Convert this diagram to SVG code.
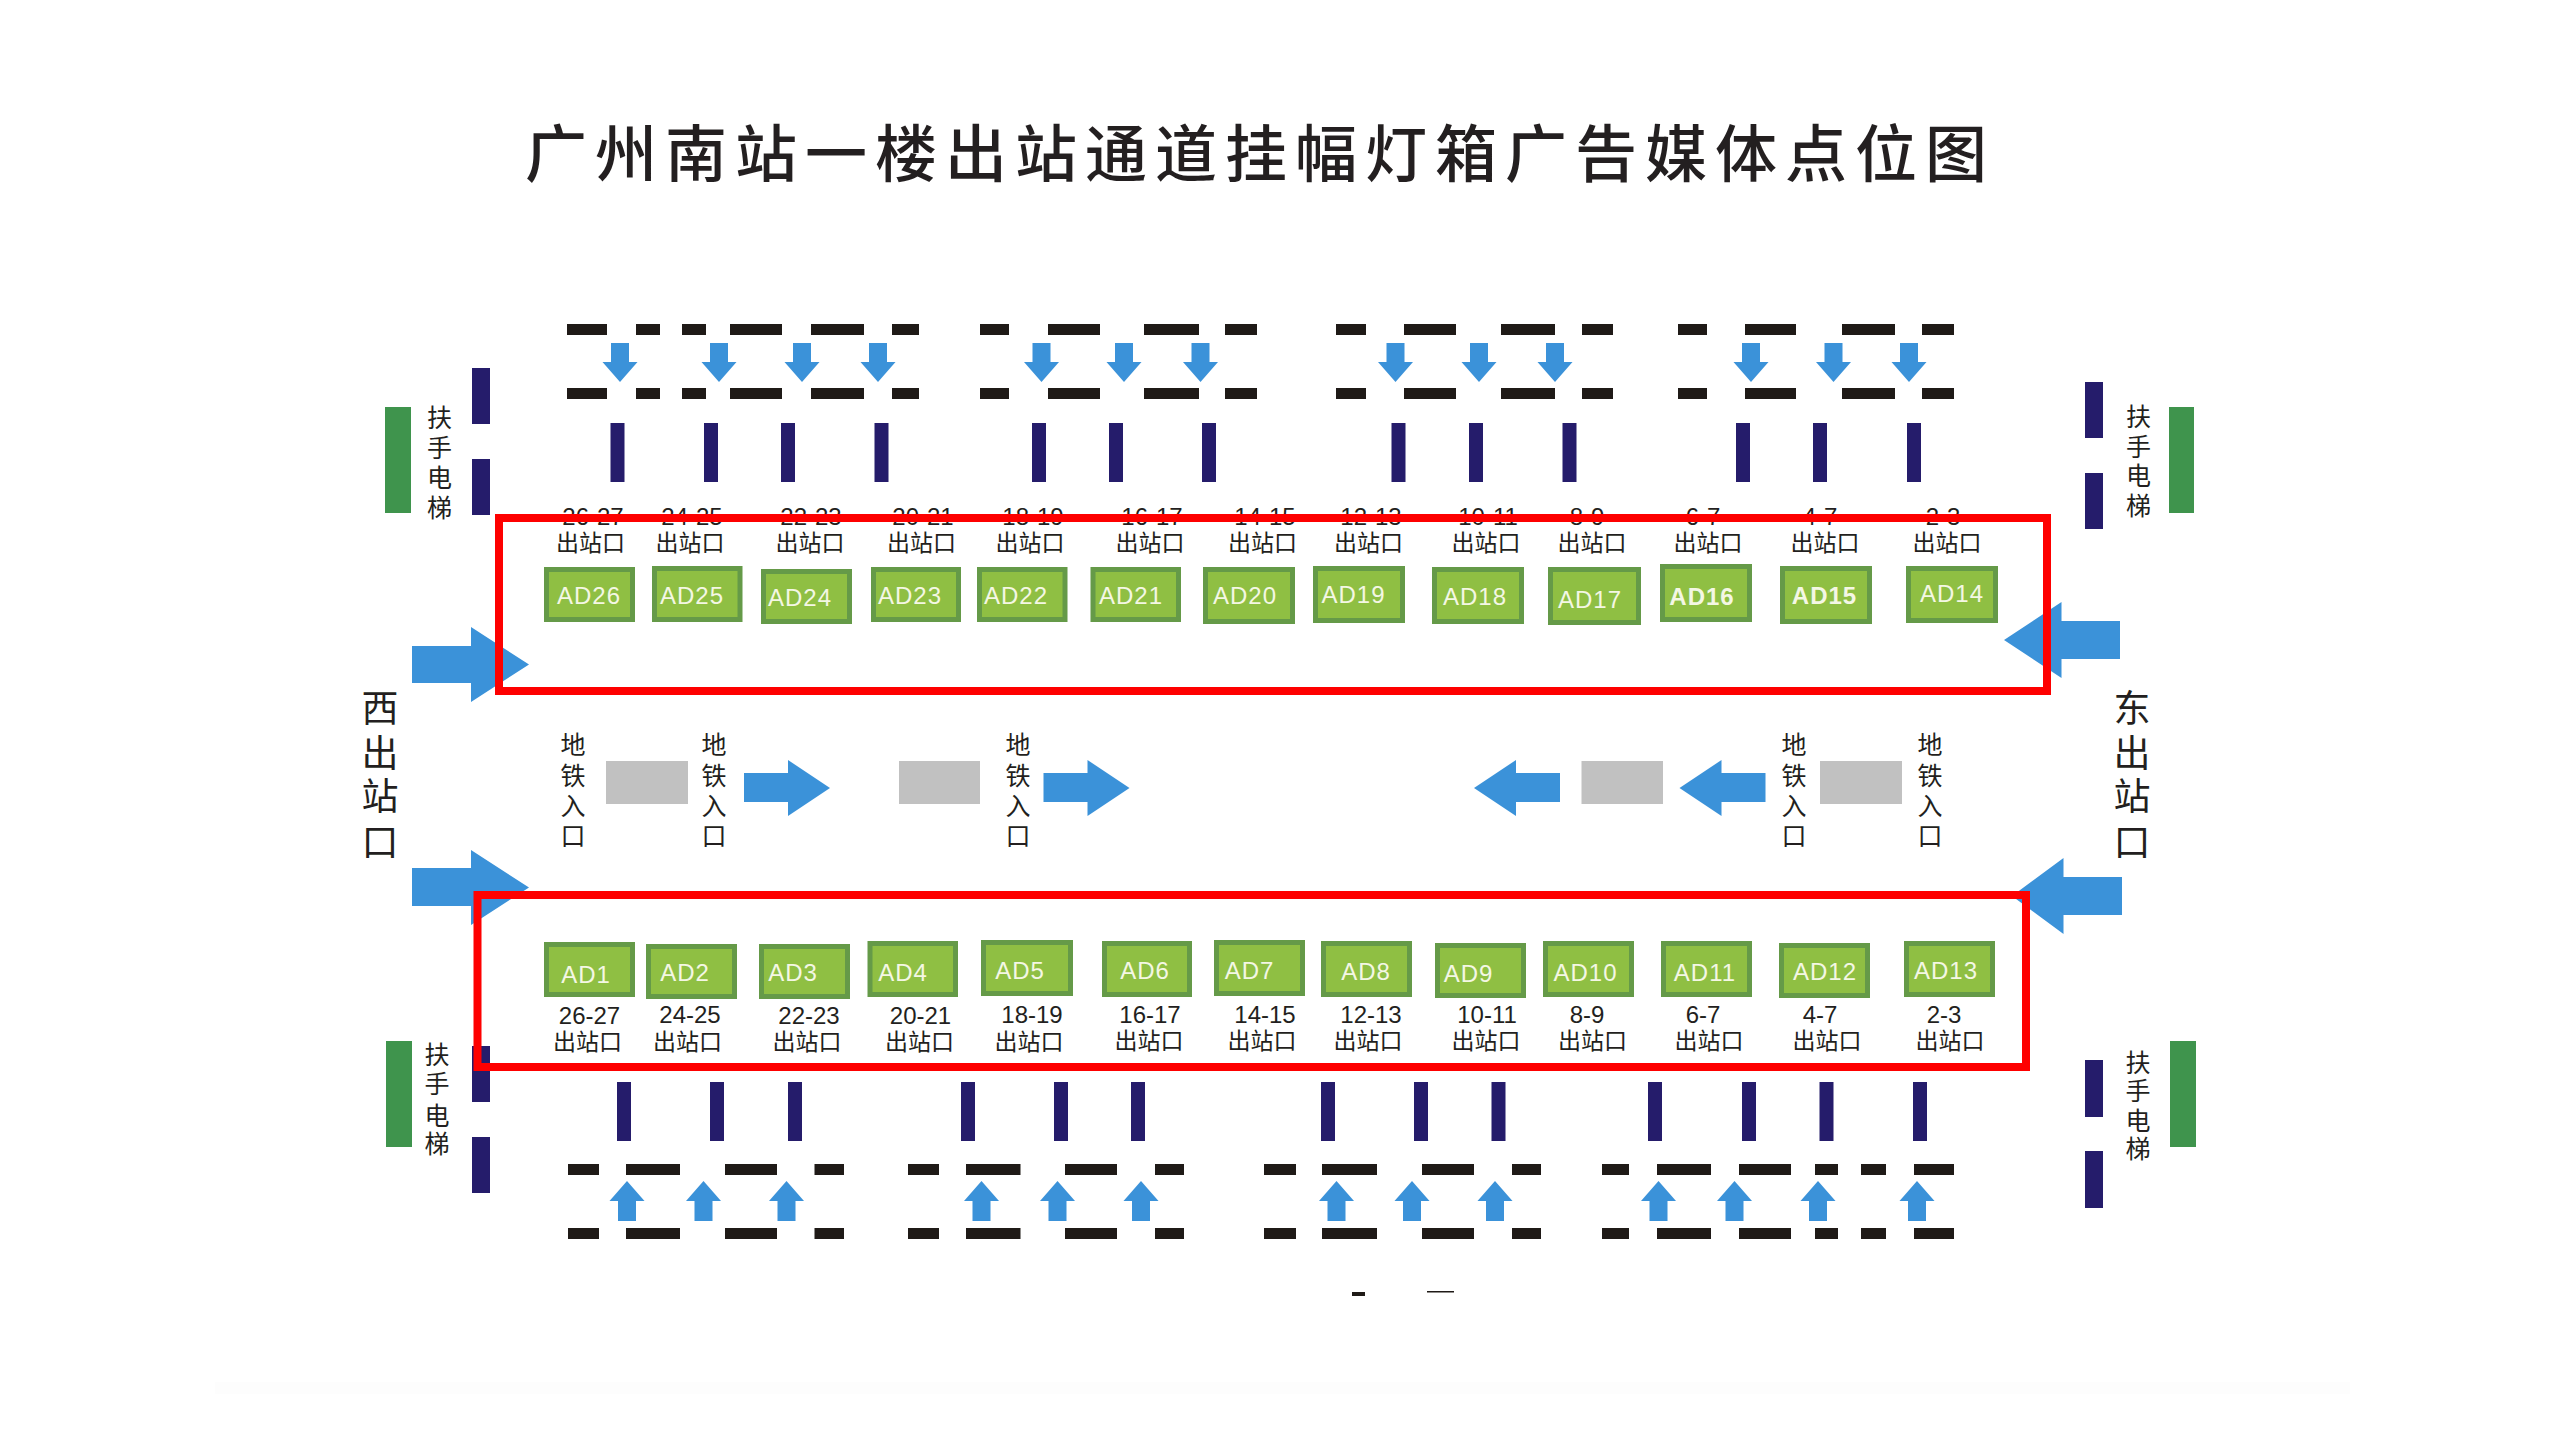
<svg xmlns="http://www.w3.org/2000/svg" xmlns:xlink="http://www.w3.org/1999/xlink" width="2560" height="1440" viewBox="0 0 2560 1440">
<style>
text{font-family:"Noto Sans CJK SC","Liberation Sans",sans-serif;fill:#231f20}
.title{font-size:62px;font-weight:500;letter-spacing:8px}
.ad{fill:#8fbf43;stroke:#659a48;stroke-width:5}
.adt{font-family:"Liberation Sans",sans-serif;font-size:24px;letter-spacing:1px;fill:#f4f7e4;text-anchor:middle}
.b{font-weight:bold}
.num{font-family:"Liberation Sans",sans-serif;font-size:24px;text-anchor:middle}
.exit{font-size:23px;text-anchor:middle}
.v{font-size:25px;text-anchor:middle}
.big{font-size:37px;text-anchor:middle}
.wall{fill:none;stroke:#1f1a17;stroke-width:11}
.navy{fill:none;stroke:#251c6b}
.blue{fill:#3b92d9}
.green{fill:#3f944d}
.gray{fill:#c1c1c1}
.red{fill:none;stroke:#fe0000;stroke-width:8}
</style>
<defs>
<path id="dn" class="blue" d="M-9 0H9V19H17.500L0 39L-17.500 19H-9Z"/>
<path id="up" class="blue" d="M-9 40H9V20H17.500L0 0L-17.500 20H-9Z"/>
<path id="mr" class="blue" d="M0 13H44V0L86 28L44 56V42H0Z"/>
<path id="ml" class="blue" d="M86 13H42V0L0 28L42 56V42H86Z"/>
</defs>
<rect width="2560" height="1440" fill="#fff"/>
<rect x="215" y="1382" width="2135" height="12" fill="#fdfdfd"/>
<text class="title" x="525" y="176.500">广州南站一楼出站通道挂幅灯箱广告媒体点位图</text>

<g id="walls">
<path class="wall" d="M567 329.500H607M636 329.500H660M682 329.500H706M730 329.500H782M811 329.500H864M892 329.500H919M980 329.500H1009M1048 329.500H1100M1144 329.500H1199M1225 329.500H1257M1336 329.500H1366M1404 329.500H1456M1501 329.500H1555M1582 329.500H1613M1678 329.500H1707M1745 329.500H1796M1842 329.500H1895M1922 329.500H1954"/>
<path class="wall" d="M567 393.500H607M636 393.500H660M682 393.500H706M730 393.500H782M811 393.500H864M892 393.500H919M980 393.500H1009M1048 393.500H1100M1144 393.500H1199M1225 393.500H1257M1336 393.500H1366M1404 393.500H1456M1501 393.500H1555M1582 393.500H1613M1678 393.500H1707M1745 393.500H1796M1842 393.500H1895M1922 393.500H1954"/>
<path class="wall" d="M568 1169.500H599M626 1169.500H680M725 1169.500H777M814.500 1169.500H844M908 1169.500H939M966 1169.500H1020.500M1065 1169.500H1117M1155 1169.500H1184M1264 1169.500H1296M1322 1169.500H1377M1422 1169.500H1474M1512 1169.500H1541M1602 1169.500H1629M1657 1169.500H1711M1739 1169.500H1791M1815 1169.500H1838M1861 1169.500H1886M1914 1169.500H1954"/>
<path class="wall" d="M568 1233.500H599M626 1233.500H680M725 1233.500H777M814.500 1233.500H844M908 1233.500H939M966 1233.500H1020.500M1065 1233.500H1117M1155 1233.500H1184M1264 1233.500H1296M1322 1233.500H1377M1422 1233.500H1474M1512 1233.500H1541M1602 1233.500H1629M1657 1233.500H1711M1739 1233.500H1791M1815 1233.500H1838M1861 1233.500H1886M1914 1233.500H1954"/>
<path d="M1352 1292H1365V1296H1352ZM1427 1291H1454V1292.500H1427Z" fill="#1f1a17"/>
</g>

<g id="columns">
<path class="navy" stroke-width="14" d="M617.500 423V482M711 423V482M788 423V482M881.500 423V482M1039 423V482M1116 423V482M1209 423V482M1398.500 423V482M1476 423V482M1569.500 423V482M1743 423V482M1820 423V482M1914 423V482"/>
<path class="navy" stroke-width="14" d="M624 1082V1141M717 1082V1141M795 1082V1141M968 1082V1141M1061 1082V1141M1138 1082V1141M1328 1082V1141M1421 1082V1141M1498.500 1082V1141M1655 1082V1141M1749 1082V1141M1826.500 1082V1141M1920 1082V1141"/>
<path class="navy" stroke-width="18" d="M481 368V424M481 459V515M481 1046V1102M481 1137V1193M2094 382V438M2094 473V529M2094 1060V1117M2094 1151V1208"/>
</g>

<g id="escalator-nw"><rect class="green" x="385" y="407" width="26" height="106"/>
<text class="v"><tspan x="439.500" y="426.500">扶</tspan><tspan x="439.500" y="456.500">手</tspan><tspan x="439.500" y="486.500">电</tspan><tspan x="439.500" y="516.500">梯</tspan></text></g>
<g id="escalator-ne"><rect class="green" x="2169" y="407" width="25" height="106"/>
<text class="v"><tspan x="2138.500" y="425.500">扶</tspan><tspan x="2138.500" y="455.500">手</tspan><tspan x="2138.500" y="484.500">电</tspan><tspan x="2138.500" y="514.500">梯</tspan></text></g>
<g id="escalator-sw"><rect class="green" x="386" y="1041" width="26" height="106"/>
<text class="v"><tspan x="437" y="1063.500">扶</tspan><tspan x="437" y="1093">手</tspan><tspan x="437" y="1124.500">电</tspan><tspan x="437" y="1152.500">梯</tspan></text></g>
<g id="escalator-se"><rect class="green" x="2170" y="1041" width="26" height="106"/>
<text class="v"><tspan x="2138" y="1071.500">扶</tspan><tspan x="2138" y="1099.500">手</tspan><tspan x="2138" y="1129.500">电</tspan><tspan x="2138" y="1157.500">梯</tspan></text></g>

<g id="exit-west"><text class="big"><tspan x="380" y="722">西</tspan><tspan x="380" y="767">出</tspan><tspan x="380" y="810">站</tspan><tspan x="380" y="856">口</tspan></text></g>
<g id="exit-east"><text class="big"><tspan x="2132" y="722">东</tspan><tspan x="2132" y="767">出</tspan><tspan x="2132" y="810">站</tspan><tspan x="2132" y="856">口</tspan></text></g>

<g id="metro-1"><text class="v"><tspan x="573" y="753.500">地</tspan><tspan x="573" y="784.500">铁</tspan><tspan x="573" y="814.500">入</tspan><tspan x="573" y="844.500">口</tspan></text></g>
<g id="metro-2"><text class="v"><tspan x="714" y="753.500">地</tspan><tspan x="714" y="784.500">铁</tspan><tspan x="714" y="814.500">入</tspan><tspan x="714" y="844.500">口</tspan></text></g>
<g id="metro-3"><text class="v"><tspan x="1018" y="753.500">地</tspan><tspan x="1018" y="784.500">铁</tspan><tspan x="1018" y="814.500">入</tspan><tspan x="1018" y="844.500">口</tspan></text></g>
<g id="metro-4"><text class="v"><tspan x="1794" y="753.500">地</tspan><tspan x="1794" y="784.500">铁</tspan><tspan x="1794" y="814.500">入</tspan><tspan x="1794" y="844.500">口</tspan></text></g>
<g id="metro-5"><text class="v"><tspan x="1930" y="753.500">地</tspan><tspan x="1930" y="784.500">铁</tspan><tspan x="1930" y="814.500">入</tspan><tspan x="1930" y="844.500">口</tspan></text></g>

<g id="stairs">
<rect class="gray" x="606" y="761" width="82" height="43"/>
<rect class="gray" x="899" y="761" width="81" height="43"/>
<rect class="gray" x="1581.500" y="761" width="81.500" height="43"/>
<rect class="gray" x="1820" y="761" width="82" height="43"/>
</g>

<g id="top-labels">
<text class="num" x="593" y="525">26-27</text><text class="exit" x="590.500" y="551">出站口</text>
<text class="num" x="692" y="525">24-25</text><text class="exit" x="690" y="551">出站口</text>
<text class="num" x="811" y="525">22-23</text><text class="exit" x="810" y="551">出站口</text>
<text class="num" x="923" y="525">20-21</text><text class="exit" x="921.500" y="551">出站口</text>
<text class="num" x="1033" y="525">18-19</text><text class="exit" x="1030" y="551">出站口</text>
<text class="num" x="1152" y="525">16-17</text><text class="exit" x="1150" y="551">出站口</text>
<text class="num" x="1265" y="525">14-15</text><text class="exit" x="1262.500" y="551">出站口</text>
<text class="num" x="1371" y="525">12-13</text><text class="exit" x="1368.500" y="551">出站口</text>
<text class="num" x="1488" y="525">10-11</text><text class="exit" x="1486" y="551">出站口</text>
<text class="num" x="1587" y="525">8-9</text><text class="exit" x="1592" y="551">出站口</text>
<text class="num" x="1703" y="525">6-7</text><text class="exit" x="1708" y="551">出站口</text>
<text class="num" x="1820" y="525">4-7</text><text class="exit" x="1825" y="551">出站口</text>
<text class="num" x="1943" y="525">2-3</text><text class="exit" x="1947" y="551">出站口</text>
</g>

<g id="bottom-labels">
<text class="num" x="589.500" y="1024">26-27</text><text class="exit" x="587.500" y="1050">出站口</text>
<text class="num" x="690" y="1023">24-25</text><text class="exit" x="687.500" y="1050">出站口</text>
<text class="num" x="809" y="1024">22-23</text><text class="exit" x="807" y="1050">出站口</text>
<text class="num" x="920.500" y="1024">20-21</text><text class="exit" x="919.500" y="1050">出站口</text>
<text class="num" x="1032" y="1023">18-19</text><text class="exit" x="1029" y="1050">出站口</text>
<text class="num" x="1150" y="1023">16-17</text><text class="exit" x="1149" y="1049">出站口</text>
<text class="num" x="1265" y="1023">14-15</text><text class="exit" x="1262" y="1049">出站口</text>
<text class="num" x="1371" y="1023">12-13</text><text class="exit" x="1368" y="1049">出站口</text>
<text class="num" x="1487" y="1023">10-11</text><text class="exit" x="1486" y="1049">出站口</text>
<text class="num" x="1587" y="1023">8-9</text><text class="exit" x="1592.500" y="1049">出站口</text>
<text class="num" x="1703" y="1023">6-7</text><text class="exit" x="1709" y="1049">出站口</text>
<text class="num" x="1820" y="1023">4-7</text><text class="exit" x="1827" y="1049">出站口</text>
<text class="num" x="1944" y="1023">2-3</text><text class="exit" x="1950" y="1049">出站口</text>
</g>

<g id="AD26"><rect class="ad" x="546.500" y="569.500" width="86" height="50"/><text class="adt" x="589" y="604">AD26</text></g>
<g id="AD25"><rect class="ad" x="654.500" y="568.500" width="85.500" height="51"/><text class="adt" x="692" y="604">AD25</text></g>
<g id="AD24"><rect class="ad" x="763.500" y="571.500" width="86" height="50"/><text class="adt" x="800" y="606">AD24</text></g>
<g id="AD23"><rect class="ad" x="873.500" y="569.500" width="85" height="50"/><text class="adt" x="910" y="604">AD23</text></g>
<g id="AD22"><rect class="ad" x="979.500" y="569.500" width="85.500" height="50"/><text class="adt" x="1016" y="604">AD22</text></g>
<g id="AD21"><rect class="ad" x="1093" y="569.500" width="85.500" height="50"/><text class="adt" x="1131" y="604">AD21</text></g>
<g id="AD20"><rect class="ad" x="1205.500" y="569.500" width="87" height="52"/><text class="adt" x="1245" y="604">AD20</text></g>
<g id="AD19"><rect class="ad" x="1315.500" y="568.500" width="87" height="52"/><text class="adt" x="1353.500" y="603">AD19</text></g>
<g id="AD18"><rect class="ad" x="1434.500" y="569.500" width="87" height="52"/><text class="adt" x="1475" y="605">AD18</text></g>
<g id="AD17"><rect class="ad" x="1550.500" y="569.500" width="88" height="53"/><text class="adt" x="1590" y="608">AD17</text></g>
<g id="AD16"><rect class="ad" x="1662.500" y="566.500" width="87" height="53"/><text class="adt b" x="1702" y="605">AD16</text></g>
<g id="AD15"><rect class="ad" x="1782.500" y="568.500" width="87" height="53"/><text class="adt b" x="1824.500" y="604">AD15</text></g>
<g id="AD14"><rect class="ad" x="1908.500" y="568.500" width="87" height="52"/><text class="adt" x="1952" y="602">AD14</text></g>

<g id="AD1"><rect class="ad" x="546.500" y="944.500" width="86" height="50"/><text class="adt" x="586" y="983">AD1</text></g>
<g id="AD2"><rect class="ad" x="648.500" y="946.500" width="86" height="50"/><text class="adt" x="685" y="981">AD2</text></g>
<g id="AD3"><rect class="ad" x="761.500" y="946.500" width="86" height="50"/><text class="adt" x="793" y="981">AD3</text></g>
<g id="AD4"><rect class="ad" x="870" y="943.500" width="85.500" height="51"/><text class="adt" x="903" y="981">AD4</text></g>
<g id="AD5"><rect class="ad" x="983.500" y="942.500" width="87" height="51"/><text class="adt" x="1020" y="979">AD5</text></g>
<g id="AD6"><rect class="ad" x="1104.500" y="943.500" width="85" height="51"/><text class="adt" x="1145" y="979">AD6</text></g>
<g id="AD7"><rect class="ad" x="1216.500" y="942.500" width="86" height="51"/><text class="adt" x="1249.500" y="979">AD7</text></g>
<g id="AD8"><rect class="ad" x="1323.500" y="943.500" width="86" height="51"/><text class="adt" x="1366" y="980">AD8</text></g>
<g id="AD9"><rect class="ad" x="1437.500" y="945.500" width="86" height="50"/><text class="adt" x="1468.500" y="982">AD9</text></g>
<g id="AD10"><rect class="ad" x="1545.500" y="943.500" width="86" height="51"/><text class="adt" x="1585.500" y="981">AD10</text></g>
<g id="AD11"><rect class="ad" x="1663.500" y="943.500" width="86" height="51"/><text class="adt" x="1705" y="981">AD11</text></g>
<g id="AD12"><rect class="ad" x="1781.500" y="945.500" width="86" height="50"/><text class="adt" x="1825" y="980">AD12</text></g>
<g id="AD13"><rect class="ad" x="1906.500" y="943.500" width="86" height="51"/><text class="adt" x="1946" y="979">AD13</text></g>

<g id="connectors">
<use href="#dn" x="620" y="343"/><use href="#dn" x="719" y="343"/><use href="#dn" x="802" y="343"/><use href="#dn" x="878" y="343"/>
<use href="#dn" x="1041.500" y="343"/><use href="#dn" x="1124" y="343"/><use href="#dn" x="1200.500" y="343"/>
<use href="#dn" x="1395.500" y="343"/><use href="#dn" x="1479" y="343"/><use href="#dn" x="1555" y="343"/>
<use href="#dn" x="1751" y="343"/><use href="#dn" x="1833.500" y="343"/><use href="#dn" x="1909" y="343"/>
<use href="#up" x="627" y="1181"/><use href="#up" x="703.500" y="1181"/><use href="#up" x="786.500" y="1181"/>
<use href="#up" x="981.500" y="1181"/><use href="#up" x="1057.500" y="1181"/><use href="#up" x="1141" y="1181"/>
<use href="#up" x="1336.500" y="1181"/><use href="#up" x="1412" y="1181"/><use href="#up" x="1495" y="1181"/>
<use href="#up" x="1658.500" y="1181"/><use href="#up" x="1734.500" y="1181"/><use href="#up" x="1818" y="1181"/><use href="#up" x="1917" y="1181"/>
<use href="#mr" x="744" y="760"/><use href="#mr" x="1043.500" y="760"/>
<use href="#ml" x="1474" y="760"/><use href="#ml" x="1679.500" y="760"/>
<path class="blue" d="M412 646H471V627L529 664.500L471 702V683H412Z"/>
<path class="blue" d="M412 868H471V850L529 887.500L471 925V906H412Z"/>
<path class="blue" d="M2120 621H2061.500V602L2004 640L2061.500 678V659H2120Z"/>
<path class="blue" d="M2122 877H2063.500V858L2012 896L2063.500 934V915H2122Z"/>
</g>

<g id="highlights">
<rect class="red" x="499" y="518" width="1548" height="173"/>
<rect class="red" x="477.500" y="895" width="1548.500" height="172"/>
</g>
</svg>
